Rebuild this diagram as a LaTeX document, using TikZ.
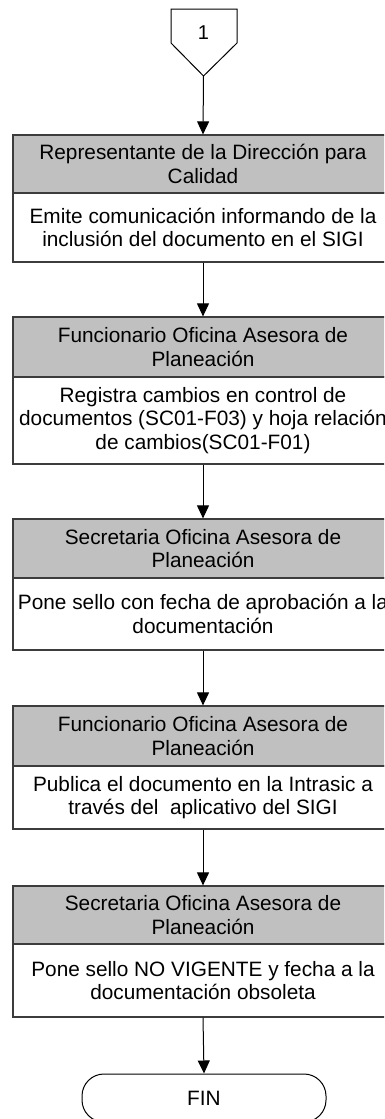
\documentclass[tikz,border=0pt]{standalone}
\usepackage{fontspec}
\setmainfont{Liberation Sans}
\usetikzlibrary{arrows.meta}
\definecolor{hdrgray}{RGB}{192,192,192}
\definecolor{edgegray}{RGB}{60,60,60}
\tikzset{
  boxbase/.style={draw=edgegray, line width=1.2pt, minimum width=380pt, inner sep=0pt, align=center,
    font=\fontsize{20.8}{23.5}\selectfont},
  hdr/.style={boxbase, fill=hdrgray},
  body/.style={boxbase, fill=white},
  flow/.style={draw=black, line width=1pt, -{Triangle[length=13pt,width=12pt]}},
  endbox/.style={draw=black, line width=1pt, minimum width=244pt, minimum height=48pt, rounded corners=22pt,
    inner sep=0pt, font=\fontsize{20.8}{23.5}\selectfont},
}
\begin{document}
\begin{tikzpicture}[x=1pt,y=-1pt]
\useasboundingbox (0,0) rectangle (384,1119);
\clip (0,0) rectangle (384,1119);
% off-page connector
\draw[draw=black, line width=1pt] (171,9) -- (237,9) -- (237,43) -- (203.5,76) -- (171,43) -- cycle;
\node[font=\fontsize{20}{23}\selectfont] (c1) at (203.5,33) {1};
\coordinate (c1tip) at (203.5,76);
% box 1
\node[hdr, minimum height=58pt] (h1) at (203,164) {Representante de la Dirección para\\Calidad};
\node[body, minimum height=69pt] (b1) at (203,227.5) {Emite comunicación informando de la\\inclusión del documento en el SIGI};
% box 2
\node[hdr, minimum height=60pt] (h2) at (203,347) {Funcionario Oficina Asesora de\\Planeación};
\node[body, minimum height=87pt] (b2) at (203,420.5) {Registra cambios en control de\\documentos (SC01-F03) y hoja relación\\de cambios(SC01-F01)};
% box 3
\node[hdr, minimum height=59pt] (h3) at (203,548.5) {Secretaria Oficina Asesora de\\Planeación};
\node[body, minimum height=72pt] (b3) at (203,614) {Pone sello con fecha de aprobación a la\\documentación};
% box 4
\node[hdr, minimum height=60pt] (h4) at (203,736) {Funcionario Oficina Asesora de\\Planeación};
\node[body, minimum height=63pt] (b4) at (203,797.5) {Publica el documento en la Intrasic a\\través del\ \ aplicativo del SIGI};
% box 5
\node[hdr, minimum height=58pt] (h5) at (203,915) {Secretaria Oficina Asesora de\\Planeación};
\node[body, minimum height=73pt] (b5) at (203,980.5) {Pone sello NO VIGENTE y fecha a la\\documentación obsoleta};
% end
\node[endbox] (fin) at (204,1098) {FIN};
% connectors
\draw[flow] (c1tip) -- (h1.north);
\draw[flow] (b1.south) -- (h2.north);
\draw[flow] (b2.south) -- (h3.north);
\draw[flow] (b3.south) -- (h4.north);
\draw[flow] (b4.south) -- (h5.north);
\draw[flow] (b5.south) -- (fin.north);
\end{tikzpicture}
\end{document}
